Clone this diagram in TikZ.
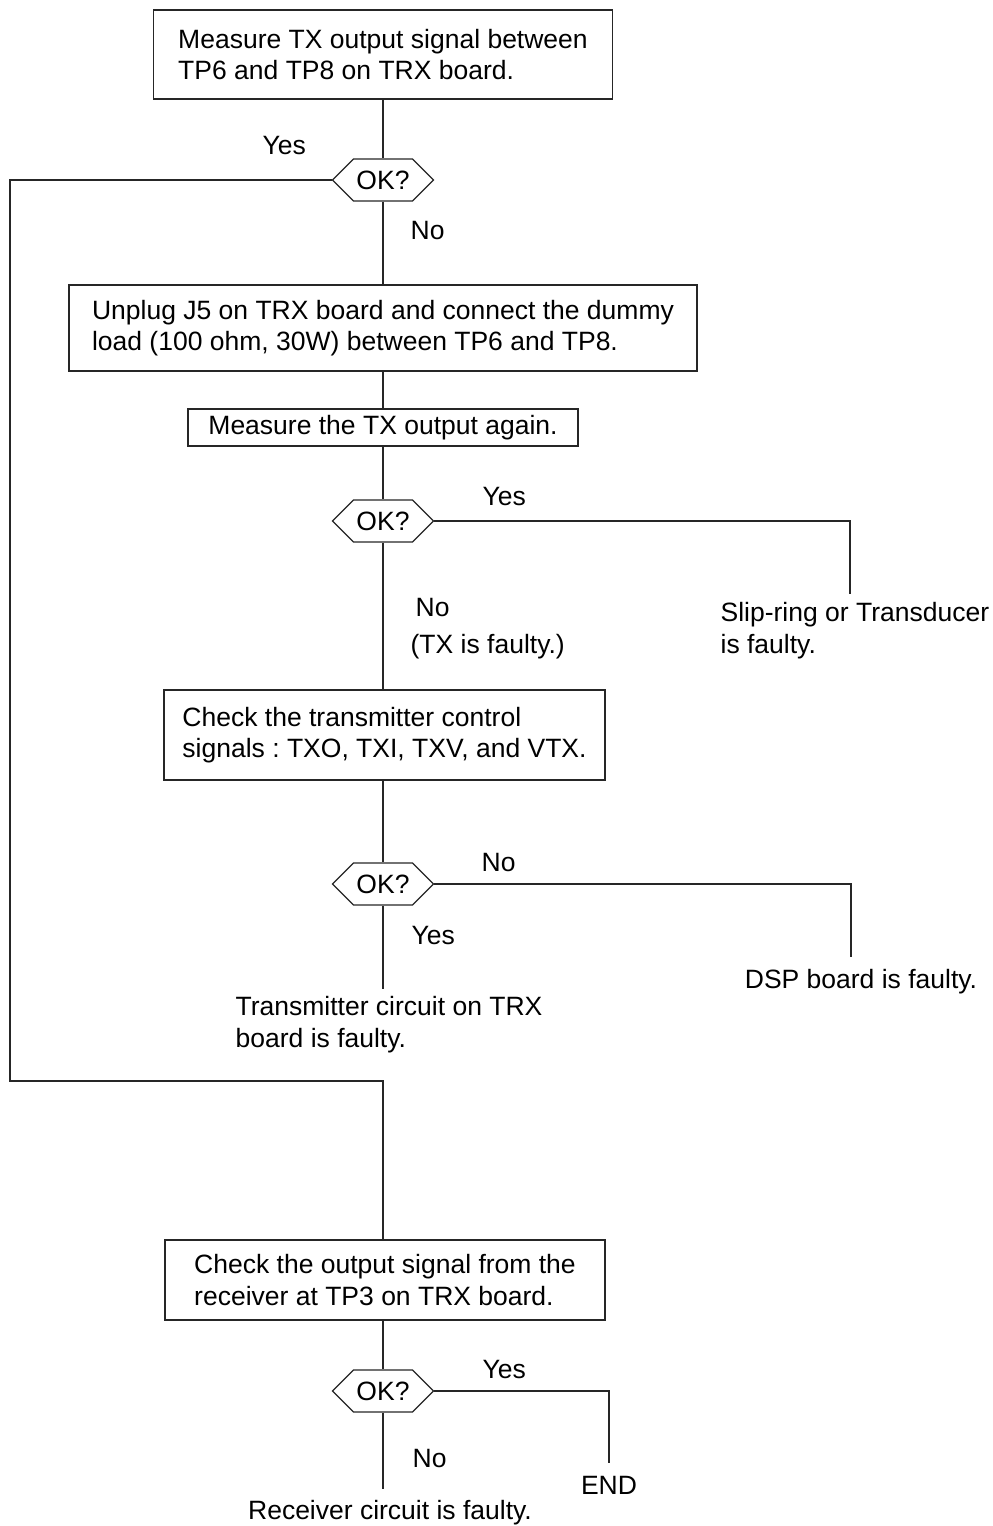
\documentclass[tikz,border=0pt]{standalone}
\usepackage{fontspec}
\setmainfont{Liberation Sans}
\usetikzlibrary{shapes.symbols}
\begin{document}
\begin{tikzpicture}[x=1pt,y=-1pt,
  line width=1.3pt, draw=black!85,
  every node/.style={font=\fontsize{26.5}{31.5}\selectfont\frenchspacing},
  stepbox/.style={draw, rectangle, align=left, inner sep=0pt},
  okq/.style={draw, signal, signal to=east and west, signal pointer angle=90,
     minimum width=101pt, minimum height=42pt, inner sep=0pt},
  lbl/.style={inner sep=0pt, anchor=base west},
  txt/.style={inner sep=0pt, align=left}]
\useasboundingbox (0,0) rectangle (993,1526);

% boxes
\node[stepbox, minimum width=459pt, minimum height=89pt] (b1) at (383,54.5)
  {Measure TX output signal between\\TP6 and TP8 on TRX board.};
\node[okq] (q1) at (383,180) {OK?};
\node[stepbox, minimum width=628pt, minimum height=86pt] (b2) at (383,328)
  {Unplug J5 on TRX board and connect the dummy\\load (100 ohm, 30W) between TP6 and TP8.};
\node[stepbox, minimum width=390pt, minimum height=37pt] (b3) at (383,427.5)
  {Measure the TX output again.};
\node[okq] (q2) at (383,521) {OK?};
\node[stepbox, minimum width=441pt, minimum height=90pt] (b4) at (384.5,735)
  {Check the transmitter control\\signals : TXO, TXI, TXV, and VTX.};
\node[okq] (q3) at (383,884) {OK?};
\node[stepbox, minimum width=440pt, minimum height=80pt] (b5) at (385,1280)
  {Check the output signal from the\\receiver at TP3 on TRX board.};
\node[okq] (q4) at (383,1391) {OK?};

% result texts
\node[txt, anchor=north west] (r1) at (720,602) {Slip-ring or Transducer\\is faulty.};
\node[txt, anchor=north] (r2) at (861,969) {DSP board is faulty.};
\node[txt, anchor=north west] (r3) at (235,996) {Transmitter circuit on TRX\\board is faulty.};
\node[txt, anchor=north] (r4) at (609,1476) {END};
\node[txt, anchor=north] (r5) at (390,1500) {Receiver circuit is faulty.};

% labels
\node[lbl] (y1) at (262,154) {Yes};
\node[lbl] (n1) at (410,239) {No};
\node[lbl] (y2) at (482,505) {Yes};
\node[lbl] (n2) at (415,616) {No};
\node[lbl] (n2b) at (410,653) {(TX is faulty.)};
\node[lbl] (n3) at (481,871) {No};
\node[lbl] (y3) at (411,944) {Yes};
\node[lbl] (y4) at (482,1378) {Yes};
\node[lbl] (n4) at (412,1467) {No};

% junction points
\coordinate (c1) at (10,180);
\coordinate (c2) at (10,1081);
\coordinate (c3) at (383,1081);
\coordinate (c4) at (850,521);
\coordinate (c5) at (851,884);
\coordinate (c6) at (609,1391);

% connectors
\draw (b1.south -| q1.north) -- (q1.north);
\draw (q1.south) -- (b2.north -| q1.south);
\draw (b2.south -| q1.south) -- (b3.north -| q1.south);
\draw (b3.south -| q2.north) -- (q2.north);
\draw (q2.south) -- (b4.north -| q2.south);
\draw (b4.south -| q3.north) -- (q3.north);
\draw (q3.south) -- ([yshift=7pt]r3.north west -| q3.south);
\draw (q1.west) -- (c1) -- (c2) -- (c3) -- (b5.north -| c3);
\draw (q2.east) -- (c4) -- ([yshift=8pt]r1.north west -| c4);
\draw (q3.east) -- (c5) -- ([yshift=12pt]r2.north -| c5);
\draw (b5.south -| q4.north) -- (q4.north);
\draw (q4.east) -- (c6) -- ([yshift=13pt]r4.north);
\draw (q4.south) -- ([yshift=11pt]r5.north -| q4.south);
\end{tikzpicture}
\end{document}
